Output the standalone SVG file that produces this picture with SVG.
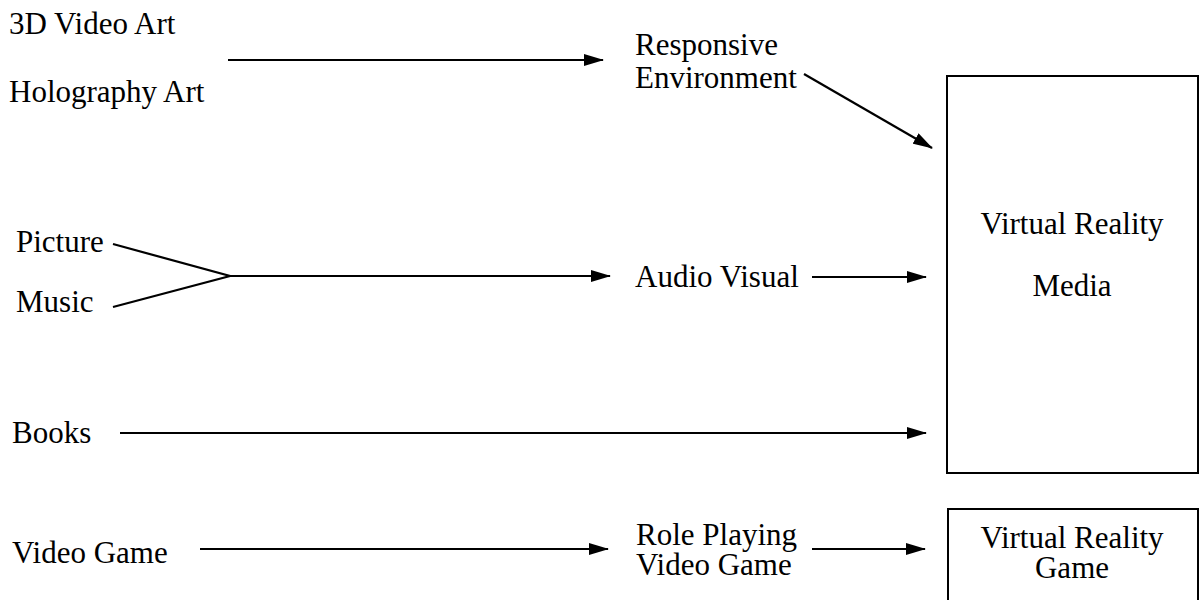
<svg xmlns="http://www.w3.org/2000/svg" width="1204" height="600" viewBox="0 0 1204 600">
<style>
text{font-family:"Liberation Serif","Times New Roman",serif;font-size:31px;fill:#000}
.c{text-anchor:middle}
.ln{stroke:#000;stroke-width:2.2;fill:none}
.box{stroke:#000;stroke-width:2;fill:#fff}
</style>
<defs>
<marker id="ah" viewBox="0 0 20 12" refX="19" refY="6" markerWidth="20" markerHeight="12" markerUnits="userSpaceOnUse" orient="auto">
<path d="M0,0 L20,6 L0,12 Z" fill="#000"/>
</marker>
</defs>
<g id="connectors">
<line class="ln" x1="228" y1="60" x2="603" y2="60" marker-end="url(#ah)"/>
<line class="ln" x1="804" y1="74" x2="932" y2="148" marker-end="url(#ah)"/>
<polyline class="ln" points="113,244 230,276 113,307"/>
<line class="ln" x1="230" y1="276" x2="610" y2="276" marker-end="url(#ah)"/>
<line class="ln" x1="812" y1="277" x2="926" y2="277" marker-end="url(#ah)"/>
<line class="ln" x1="120" y1="433" x2="926" y2="433" marker-end="url(#ah)"/>
<line class="ln" x1="200" y1="549" x2="608" y2="549" marker-end="url(#ah)"/>
<line class="ln" x1="812" y1="549" x2="925" y2="549" marker-end="url(#ah)"/>
</g>
<g id="n3dvideo"><text x="9" y="34">3D Video Art</text></g>
<g id="nholo"><text x="9" y="102">Holography Art</text></g>
<g id="nresp"><text x="635" y="55">Responsive</text><text x="635" y="88">Environment</text></g>
<g id="nvrm"><rect class="box" x="947" y="76" width="251" height="397"/><text class="c" x="1072" y="234">Virtual Reality</text><text class="c" x="1072" y="296">Media</text></g>
<g id="npicture"><text x="16" y="252">Picture</text></g>
<g id="nmusic"><text x="16" y="312">Music</text></g>
<g id="naudio"><text x="635" y="287">Audio Visual</text></g>
<g id="nbooks"><text x="12" y="443">Books</text></g>
<g id="nvideogame"><text x="12" y="563">Video Game</text></g>
<g id="nrpg"><text x="636" y="545">Role Playing</text><text x="636" y="575">Video Game</text></g>
<g id="nvrg"><rect class="box" x="948" y="509" width="250" height="100"/><text class="c" x="1072" y="548">Virtual Reality</text><text class="c" x="1072" y="578">Game</text></g>
</svg>
